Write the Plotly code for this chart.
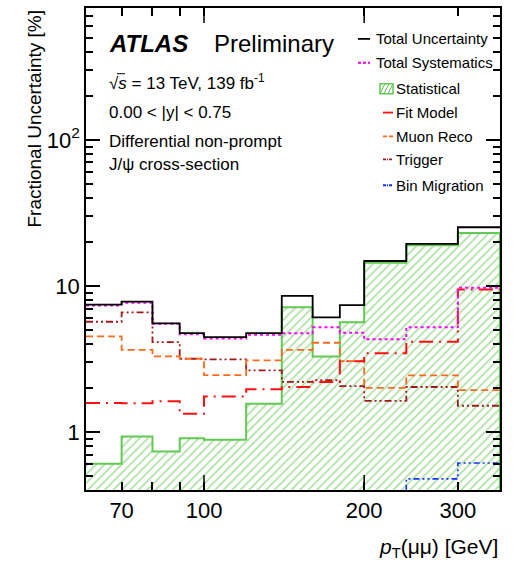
import plotly.graph_objects as go

# pT(mumu) bin edges [GeV] and fractional uncertainties [%] per bin
bin_edges = [60, 70, 80, 90, 100, 120, 140, 160, 180, 200, 240, 300, 360]
total_unc = [7.43, 7.80, 5.54, 4.74, 4.45, 4.74, 8.55, 6.09, 7.39, 14.8, 19.4, 25.2]
total_syst = [7.35, 7.66, 5.50, 4.66, 4.36, 4.62, 4.74, 5.20, 4.78, 4.31, 5.20, 9.70]
statistical = [0.605, 0.93, 0.734, 0.906, 0.882, 1.56, 7.15, 3.29, 5.63, 14.4, 19.0, 23.0]
fit_model = [1.58, 1.57, 1.62, 1.33, 1.75, 1.96, 2.03, 2.20, 3.05, 3.45, 4.14, 9.45]
muon_reco = [4.51, 3.65, 3.29, 3.17, 2.45, 3.09, 3.65, 4.08, 3.05, 2.00, 2.44, 1.93]
trigger = [5.68, 6.59, 4.12, 3.17, 3.14, 2.64, 2.20, 2.26, 2.06, 1.63, 2.03, 1.51]
bin_migration = [0.30, 0.28, 0.27, 0.25, 0.26, 0.29, 0.32, 0.33, 0.36, 0.38, 0.477, 0.612]

x_tick_vals = [70, 100, 200, 300]
x_tick_text = ["70", "100", "200", "300"]
y_tick_vals = [1, 10, 100]
y_tick_text = ["1", "10", "10<sup>2</sup>"]

FONT = "Liberation Sans, Arial, Helvetica, sans-serif"
GREEN_LINE = "#62CA52"
GREEN_HATCH = "#5EC24E"
MAGENTA = "#FF00FF"
RED = "#FF1010"
ORANGE = "#FF6A1A"
DARKRED = "#9E1A1A"
BLUE = "#1030FF"

# plot-area geometry in pixels (used only to place the text/legend in paper coords)
W, H = 516, 576
L, R, T, B = 86, 500, 6, 490


def px(x):
    return (x - L) / (R - L)


def py(y):
    return (B - y) / (B - T)


def step_xy(edges, vals):
    return list(edges), list(vals) + [vals[-1]]


fig = go.Figure()

# statistical component: hatched filled histogram
sx, sy = step_xy(bin_edges, statistical)
floor = 0.01
fig.add_trace(go.Scatter(
    x=sx + [bin_edges[-1], bin_edges[0]],
    y=sy + [floor, floor],
    mode="lines", line=dict(color=GREEN_LINE, width=2, shape="hv"),
    fill="toself", fillcolor="white",
    fillpattern=dict(shape="/", fgcolor=GREEN_HATCH, bgcolor="white",
                     size=6, solidity=0.3),
    hoverinfo="skip", showlegend=False,
))

line_series = [
    (bin_migration, BLUE, "6px,3px,2px,3px,2px,3px", 1.6),
    (trigger, DARKRED, "7px,3px,2px,3px,2px,3px", 1.8),
    (muon_reco, ORANGE, "7px,4px", 1.8),
    (fit_model, RED, "14px,6px,2px,6px", 2.0),
    (total_syst, MAGENTA, "3px,3px", 2.0),
    (total_unc, "black", "solid", 1.8),
]
for vals, color, dash, width in line_series:
    x, y = step_xy(bin_edges, vals)
    fig.add_trace(go.Scatter(
        x=x, y=y, mode="lines",
        line=dict(color=color, width=width, dash=dash, shape="hv"),
        hoverinfo="skip", showlegend=False,
    ))

shapes = []
# longer major ticks at 100 and 200 on bottom and top frame
for xv in (100, 200):
    shapes.append(dict(type="line", xref="x", yref="paper", x0=xv, x1=xv,
                       y0=0, y1=15 / (B - T), line=dict(color="black", width=1.5)))
    shapes.append(dict(type="line", xref="x", yref="paper", x0=xv, x1=xv,
                       y0=1, y1=1 - 15 / (B - T), line=dict(color="black", width=1.5)))

annotations = []


def text(x, y, s, size, anchor="left", **kw):
    annotations.append(dict(
        x=px(x), y=py(y), xref="paper", yref="paper", text=s, showarrow=False,
        xanchor=anchor, yanchor="middle",
        font=dict(family=FONT, size=size, color="black"), **kw))


text(107, 42, "<b><i>ATLAS</i></b>", 24)
text(212, 42, "Preliminary", 24)
text(107, 80, "√<i>s</i> = 13 TeV, 139 fb<sup>-1</sup>", 17)
text(107, 111, "0.00 < |y| < 0.75", 17)
text(107, 140, "Differential non-prompt", 17)
text(107, 163, "J/ψ cross-section", 17)
# overline of the square-root sign
shapes.append(dict(type="line", xref="paper", yref="paper",
                   x0=px(117), x1=px(125), y0=py(72), y1=py(72),
                   line=dict(color="black", width=1)))

# legend
legend_rows = [
    ("Total Uncertainty", "line", "black", "solid", 37, 358, 370, 374),
    ("Total Systematics", "line", MAGENTA, "3px,2px", 61, 358, 370, 374),
    ("Statistical", "box", GREEN_LINE, None, 87, 380, 393, 394),
    ("Fit Model", "line", RED, "solid", 111, 383, 393, 394),
    ("Muon Reco", "line", ORANGE, "4px,2px", 135, 383, 393, 394),
    ("Trigger", "line", DARKRED, "3px,1px,1px,1px", 158, 383, 393, 394),
    ("Bin Migration", "line", BLUE, "3px,1px,1px,1px", 184, 383, 393, 394),
]
for label, kind, color, dash, yc, x0, x1, xt in legend_rows:
    if kind == "line":
        shapes.append(dict(type="line", xref="paper", yref="paper",
                           x0=px(x0), x1=px(x1), y0=py(yc), y1=py(yc),
                           line=dict(color=color, width=1.8, dash=dash)))
    else:
        shapes.append(dict(type="rect", xref="paper", yref="paper",
                           x0=px(x0), x1=px(x1), y0=py(yc + 5), y1=py(yc - 5),
                           line=dict(color=color, width=1.5), fillcolor="white"))
        for a, b in ((0, 5), (4, 9), (8, 13)):
            shapes.append(dict(type="line", xref="paper", yref="paper",
                               x0=px(x0 + a), x1=px(x0 + b),
                               y0=py(yc + 5), y1=py(yc - 5),
                               line=dict(color=GREEN_HATCH, width=1)))
    text(xt, yc, label, 15)

# axis titles
text(500, 548, "<i>p</i><sub>T</sub>(μμ) [GeV]", 21, anchor="right")
annotations.append(dict(
    x=px(35), y=py(117), xref="paper", yref="paper",
    text="Fractional Uncertainty [%]", showarrow=False, textangle=-90,
    xanchor="center", yanchor="middle",
    font=dict(family=FONT, size=19, color="black")))

x_minor = [80, 90]
y_minor = [0.4, 0.5, 0.6, 0.7, 0.8, 0.9, 2, 3, 4, 5, 6, 7, 8, 9,
           20, 30, 40, 50, 60, 70, 80, 90, 200, 300, 400, 500, 600, 700]

fig.update_layout(
    width=W, height=H,
    margin=dict(l=L, r=W - R, t=T, b=H - B, pad=0),
    paper_bgcolor="white", plot_bgcolor="white",
    showlegend=False,
    font=dict(family=FONT, color="black"),
    shapes=shapes, annotations=annotations,
    xaxis=dict(
        type="log", range=[1.7781513, 2.5563025],
        showgrid=False, zeroline=False,
        showline=True, linecolor="black", linewidth=1.5, mirror="ticks",
        ticks="inside", ticklen=8, tickwidth=1.5, tickcolor="black",
        tickvals=x_tick_vals, ticktext=x_tick_text,
        tickfont=dict(family=FONT, size=22, color="black"),
        minor=dict(tickvals=x_minor, ticks="inside", ticklen=8, tickwidth=1.5,
                   tickcolor="black", showgrid=False),
    ),
    yaxis=dict(
        type="log", range=[-0.39794, 2.90309],
        showgrid=False, zeroline=False,
        showline=True, linecolor="black", linewidth=1.5, mirror="ticks",
        ticks="inside", ticklen=14, tickwidth=1.5, tickcolor="black",
        tickvals=y_tick_vals, ticktext=y_tick_text,
        tickfont=dict(family=FONT, size=22, color="black"),
        minor=dict(tickvals=y_minor, ticks="inside", ticklen=7, tickwidth=1.5,
                   tickcolor="black", showgrid=False),
    ),
)

fig.write_html("out.html")
